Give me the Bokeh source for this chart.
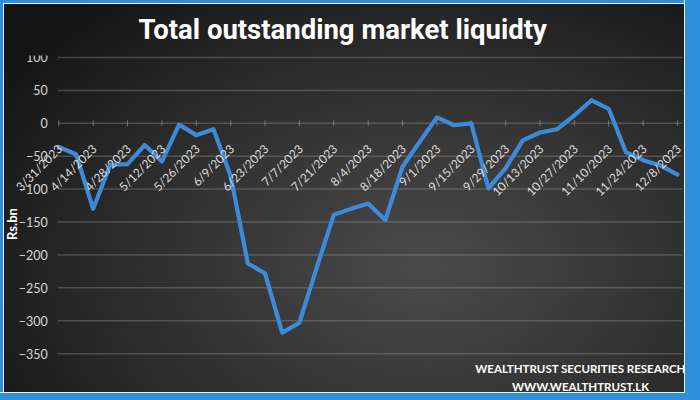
import math
from bokeh.plotting import figure
from bokeh.models import FixedTicker, Range1d, Label, ColumnDataSource
from bokeh.core.properties import value
from bokeh.embed import file_html
from bokeh.resources import INLINE

# ---- data -------------------------------------------------------------
dates = ["3/31/2023", "4/7/2023", "4/14/2023", "4/21/2023", "4/28/2023",
         "5/5/2023", "5/12/2023", "5/19/2023", "5/26/2023", "6/2/2023",
         "6/9/2023", "6/16/2023", "6/23/2023", "6/30/2023", "7/7/2023",
         "7/14/2023", "7/21/2023", "7/28/2023", "8/4/2023", "8/11/2023",
         "8/18/2023", "8/25/2023", "9/1/2023", "9/8/2023", "9/15/2023",
         "9/22/2023", "9/29/2023", "10/6/2023", "10/13/2023", "10/20/2023",
         "10/27/2023", "11/3/2023", "11/10/2023", "11/17/2023", "11/24/2023",
         "12/1/2023", "12/8/2023"]
liquidity = [-36, -47, -130, -63, -62, -33, -58, -2, -18, -9,
             -80, -213, -228, -318, -303, -220, -139, -130, -122, -147,
             -66, -28, 9, -3, 0, -99, -68, -26, -14, -9,
             12, 35, 22, -44, -56, -64, -78]
y_ticks = [100, 50, 0, -50, -100, -150, -200, -250, -300, -350]
title_text = "Total outstanding market liquidty"
y_title = "Rs.bn"
source_lines = ["WEALTHTRUST SECURITIES RESEARCH", "WWW.WEALTHTRUST.LK"]

idx = list(range(len(dates)))
src = ColumnDataSource(dict(x=idx, y=liquidity))
shown = [i for i in idx if i % 2 == 0]
lab_src = ColumnDataSource(dict(x=shown, y=[0] * len(shown),
                                t=[dates[i] for i in shown]))

X0, X1 = -0.058, 36.3          # extent of the plotting area proper
x_range = Range1d(-3.392, 36.408)
y_range = Range1d(-409, 103)

# ---- figure -----------------------------------------------------------
p = figure(width=684, height=392, output_backend="svg", toolbar_location=None,
           x_range=x_range, y_range=y_range,
           min_border_left=0, min_border_right=0, min_border_bottom=0,
           min_border_top=54,
           background_fill_alpha=0, border_fill_alpha=0,
           outline_line_color=None, title=title_text)

p.styles = {
    "background": "radial-gradient(ellipse 75% 90% at 62% 68%, #4a4a4a 0%, #393939 35%, #262626 70%, #141414 100%)",
    "box-shadow": "inset 3px 3px 0 0 #2f8fda, inset 4px 4px 0 0 #e6f2ff, 0 0 0 1px #e6f2ff, 0 0 0 16px #2f8fda",
}

p.title.align = "left"
p.title.offset = 138
p.title.text_color = "white"
p.title.text_font = "Roboto"
p.title.text_font_style = "bold"
p.title.text_font_size = "27.5px"
p.title.standoff = 20

p.xaxis.visible = False
p.xgrid.visible = False
p.ygrid.visible = False

# y axis pinned at the left edge of the plotting area
ax = p.yaxis[0]
ax.fixed_location = X0
ax.ticker = FixedTicker(ticks=y_ticks)
ax.axis_line_color = None
ax.major_tick_line_color = None
ax.major_tick_in = 0
ax.major_tick_out = 0
ax.minor_tick_line_color = None
ax.minor_tick_in = 0
ax.minor_tick_out = 0
ax.major_label_text_color = "#d6d6d6"
ax.major_label_text_font = "Lato"
ax.major_label_text_font_size = "12.5px"
ax.major_label_standoff = 10
ax.axis_label = y_title
ax.axis_label_text_color = "white"
ax.axis_label_text_font = "Lato"
ax.axis_label_text_font_style = "bold"
ax.axis_label_text_font_size = "13px"
ax.axis_label_standoff = -4

# horizontal grid lines at the y ticks
p.segment(x0=X0, x1=X1, y0=y_ticks, y1=y_ticks, line_color="#9a9a9a",
          line_alpha=0.35, line_width=1.5)

# small tick marks on the zero line
p.scatter(x="x", y="y", source=lab_src, marker="dash", angle=math.pi / 2,
          size=6, line_color="#a0a0a0", line_alpha=0.6, line_width=1)

# main line
p.line(x="x", y="y", source=src, line_color="#3d8ad8", line_width=4.2,
       line_join="round", line_cap="round")

# rotated category labels along the zero line
p.text(x="x", y="y", text="t", source=lab_src, angle=math.pi / 4,
       text_align="right", text_baseline="top", x_offset=-4, y_offset=18,
       text_color="#dcdcdc", text_font=value("Lato"), text_font_size="12px")

# source notes
for txt, yy in zip(source_lines, [24, 6]):
    p.add_layout(Label(x=580, y=yy, x_units="screen", y_units="screen",
                       text=txt, text_align="center",
                       text_baseline="middle", text_color="white",
                       text_font="Lato", text_font_style="bold",
                       text_font_size="11.5px"))

open("out.html", "w").write(file_html(p, INLINE))
